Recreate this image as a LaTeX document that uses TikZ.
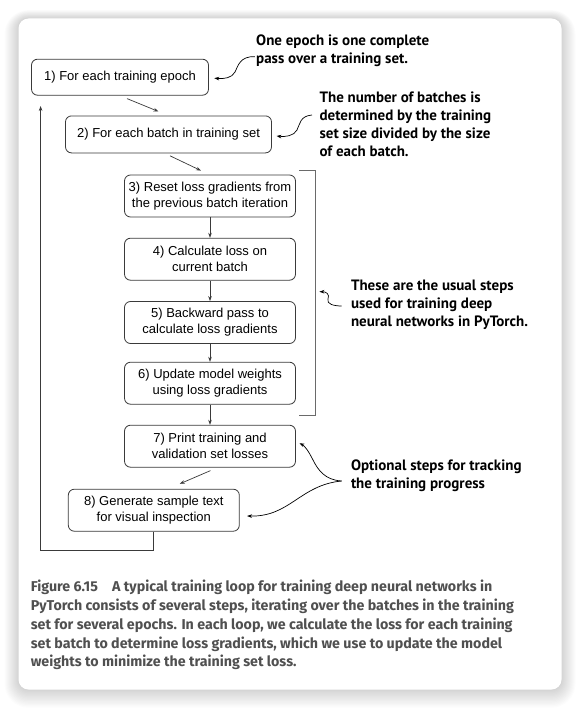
\documentclass[tikz,border=0pt]{standalone}
\usepackage{fontspec}
\setmainfont{Liberation Sans}
\newfontfamily\notefont{PT Sans}
\newfontfamily\capfont{Fira Sans}
\usetikzlibrary{arrows.meta,calc}

\definecolor{linegray}{HTML}{3A3A3A}
\definecolor{capgray}{HTML}{505050}
\definecolor{bracketgray}{HTML}{6A6A6A}

\tikzset{
  stepbox/.style={draw=linegray, line width=0.8pt, rounded corners=6pt,
    minimum width=171pt, minimum height=42pt, inner sep=0pt, align=center,
    font=\fontsize{13}{16}\selectfont},
  flow/.style={-{Stealth[length=5pt,width=3.6pt]}, line width=0.7pt, linegray},
  note/.style={anchor=west, align=left, inner sep=0pt,
    font=\notefont\bfseries\fontsize{15}{18}\selectfont},
  squiggle/.style={-{Stealth[length=5pt,width=3.6pt]}, line width=0.7pt},
}

\begin{document}
\begin{tikzpicture}[x=1pt,y=-1pt]
  \useasboundingbox (0,0) rectangle (579,709);
  \fill[white] (0,0) rectangle (579,709);
  % card with soft shadow
  \foreach \i in {1,...,14}
    \fill[black,opacity=0.013,rounded corners=10+\i]
      (18.5-\i,18.5-0.6*\i) rectangle (561.5+\i,689.5+1.3*\i);
  \fill[white,rounded corners=10pt] (18.5,18.5) rectangle (561.5,689.5);

  % steps
  \node[stepbox, minimum width=177pt, minimum height=36pt] (b1) at (120,77.2) {1) For each training epoch};
  \node[stepbox, minimum width=206pt, minimum height=37pt] (b2) at (168.5,134.4) {2) For each batch in training set};
  \node[stepbox] (b3) at (210,196) {3) Reset loss gradients from\\the previous batch iteration};
  \node[stepbox] (b4) at (210,259.2) {4) Calculate loss on\\current batch};
  \node[stepbox] (b5) at (210,322.5) {5) Backward pass to\\calculate loss gradients};
  \node[stepbox] (b6) at (210,383.2) {6) Update model weights\\using loss gradients};
  \node[stepbox] (b7) at (210,446.2) {7) Print training and\\validation set losses};
  \node[stepbox] (b8) at (153.8,510.2) {8) Generate sample text\\for visual inspection};

  \draw[flow] ([xshift=7pt,yshift=-3pt]b1.south) -- ([xshift=-10pt,yshift=4pt]b2.north);
  \draw[flow] ([xshift=1.5pt,yshift=-2.5pt]b2.south) -- ([xshift=-9pt,yshift=4pt]b3.north);
  \foreach \a/\b in {b3/b4,b4/b5,b5/b6,b6/b7}
    \draw[flow] (\a.south) -- (\b.north);
  \draw[flow] ([xshift=0.5pt,yshift=-3pt]b7.south) -- ([xshift=26pt,yshift=5pt]b8.north);

  % loop back to the first step
  \coordinate (loopbl) at (40.6,550.7);
  \coordinate (looptop) at (40.6,106);
  \draw[flow] (b8.south) |- (loopbl) -- (looptop);

  % bracket round steps 3-6
  \draw[bracketgray, line width=0.9pt] (299,170) -- (315.7,170) -- (315.7,415.7) -- (299,415.7);

  % notes
  \node[note] (n1) at (256,51.2) {One epoch is one complete\\pass over a training set.};
  \node[note] (n2) at (319.4,124.5) {The number of batches is\\determined by the training\\set size divided by the size\\of each batch.};
  \node[note] (n3) at (350.8,304.7) {These are the usual steps\\used for training deep\\neural networks in PyTorch.};
  \node[note] (n4) at (350.8,475.4) {Optional steps for tracking\\the training progress};

  \coordinate (s1) at (254.8,56.7);
  \coordinate (s2) at (312,115);
  \coordinate (s3) at (341.7,306);
  \coordinate (s4) at (341.6,481);
  \draw[squiggle] (s1) .. controls (240,56) and (238,66) .. (235,72)
    .. controls (232,78) and (224,79) .. ([xshift=5.4pt,yshift=-1pt]b1.east);
  \draw[squiggle] (s2) .. controls (300,116) and (300,124) .. (297,130)
    .. controls (294,136) and (285,137) .. ([xshift=4.6pt,yshift=-1.6pt]b2.east);
  \draw[squiggle] (s3) .. controls (334,306) and (326,304) .. (328,299)
    .. controls (330,294) and (326,291.7) .. (319.4,291.7);
  \draw[squiggle] (s4) .. controls (325,480) and (318,470) .. (313,460)
    .. controls (309,452) and (305,446) .. ([xshift=3.6pt,yshift=3pt]b7.east);
  \draw[squiggle] (s4) .. controls (300,485) and (290,517) .. ([xshift=7.4pt,yshift=-5.8pt]b8.east);

  % caption
  \node[anchor=north west, align=left, inner sep=0pt, text=capgray,
    font=\capfont\bfseries\fontsize{14.25}{18.8}\selectfont] (cap) at (30.6,580)
    {Figure 6.15\quad A typical training loop for training deep neural networks in\\
     PyTorch consists of several steps, iterating over the batches in the training\\
     set for several epochs. In each loop, we calculate the loss for each training\\
     set batch to determine loss gradients, which we use to update the model\\
     weights to minimize the training set loss.};
\end{tikzpicture}
\end{document}
